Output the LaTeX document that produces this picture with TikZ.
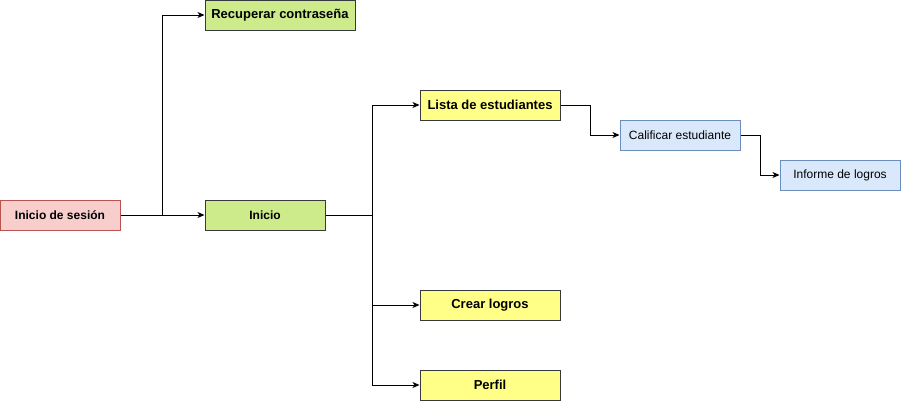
\documentclass[tikz,border=0pt]{standalone}
\usepackage{fontspec}
\setmainfont{Liberation Sans}
\usetikzlibrary{arrows.meta}
\definecolor{redfill}{HTML}{F8CECC}
\definecolor{redline}{HTML}{B85450}
\definecolor{greenfill}{HTML}{CDEB8B}
\definecolor{yellowfill}{HTML}{FFFF88}
\definecolor{darkline}{HTML}{36393D}
\definecolor{bluefill}{HTML}{DAE8FC}
\definecolor{blueline}{HTML}{6C8EBF}
\tikzset{
  box/.style={draw, line width=1pt, inner sep=0pt, font=\fontsize{12}{14}\selectfont},
  redbox/.style={box, fill=redfill, draw=redline, minimum width=120pt, minimum height=30pt, font=\fontsize{12}{14}\selectfont\bfseries},
  greenbox/.style={box, fill=greenfill, draw=darkline, minimum height=30pt, font=\fontsize{12}{14}\selectfont\bfseries},
  bigtext/.style={font=\fontsize{13}{15}\selectfont\bfseries},
  yellowbox/.style={box, fill=yellowfill, draw=darkline, minimum width=140pt, minimum height=30pt, bigtext},
  bluebox/.style={box, fill=bluefill, draw=blueline, minimum width=120pt, minimum height=30pt},
  conn/.style={line width=1pt, -{Stealth[length=7pt,width=6pt,inset=2pt]}}
}
\begin{document}
\begin{tikzpicture}[x=1pt,y=-1pt]
\useasboundingbox (0,0) rectangle (901,402);
\node[redbox] (ses) at (60,215) {Inicio de sesión};
\node[greenbox, bigtext, minimum width=150pt] (rec) at (280,15) {Recuperar contraseña};
\node[greenbox, minimum width=120pt] (ini) at (265,215) {Inicio};
\node[yellowbox] (lis) at (490,105) {Lista de estudiantes};
\node[yellowbox] (cre) at (490,305) {Crear logros};
\node[yellowbox] (per) at (490,385) {Perfil};
\node[bluebox] (cal) at (680,135) {Calificar estudiante};
\node[bluebox] (inf) at (840,175) {Informe de logros};
\coordinate (j1) at (162,215);
\coordinate (j2) at (372,215);
\draw[conn] (ses.east) -- (j1) |- (rec.west);
\draw[conn] (ses.east) -- (ini.west);
\draw[conn] (ini.east) -- (j2) |- (lis.west);
\draw[conn] (ini.east) -- (j2) |- (cre.west);
\draw[conn] (ini.east) -- (j2) |- (per.west);
\draw[conn] (lis.east) -- ++(30,0) |- (cal.west);
\draw[conn] (cal.east) -- ++(20,0) |- (inf.west);
\end{tikzpicture}
\end{document}
